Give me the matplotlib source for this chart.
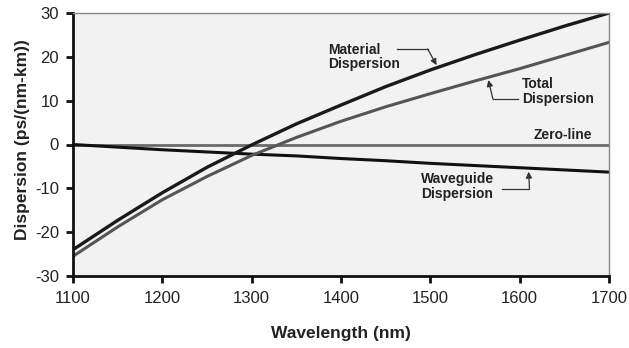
import numpy as np
import matplotlib
matplotlib.use('Agg')
import matplotlib.pyplot as plt

plt.rcParams['font.family'] = ['Liberation Sans', 'DejaVu Sans']
plt.rcParams['axes.unicode_minus'] = False

# data
wavelength = [1100, 1150, 1200, 1250, 1300, 1350, 1400, 1450, 1500, 1550, 1600, 1650, 1700]
material = [-24.0, -17.3, -11.0, -5.2, -0.1, 4.7, 9.0, 13.2, 17.0, 20.5, 23.8, 27.0, 30.0]
waveguide = [0.0, -0.6, -1.2, -1.7, -2.2, -2.6, -3.2, -3.7, -4.3, -4.8, -5.3, -5.8, -6.3]
total = [-25.5, -18.8, -12.6, -7.3, -2.5, 1.6, 5.3, 8.6, 11.6, 14.5, 17.3, 20.3, 23.3]
zero_line = [0.0] * len(wavelength)

xticks = [1100, 1200, 1300, 1400, 1500, 1600, 1700]
yticks = [-30, -20, -10, 0, 10, 20, 30]

fig = plt.figure(figsize=(6.29, 3.48), dpi=100)
ax = fig.add_axes([73/629, 72/348, 536/629, 263/348])
ax.set_facecolor('#f2f2f2')

ax.plot(wavelength, zero_line, color='#6a6a6a', lw=2.0)
ax.plot(wavelength, waveguide, color='#111111', lw=2.2)
ax.plot(wavelength, total, color='#555555', lw=2.2)
ax.plot(wavelength, material, color='#1a1a1a', lw=2.4)

ax.set_xlim(1100, 1700)
ax.set_ylim(-30, 30)
ax.set_xticks(xticks)
ax.set_yticks(yticks)
ax.tick_params(axis='both', direction='out', length=5, width=2, color='#111111',
               labelsize=12, labelcolor='#222222', pad=5)
ax.tick_params(axis='x', pad=6)

for s in ['left', 'bottom']:
    ax.spines[s].set_linewidth(2)
    ax.spines[s].set_color('#111111')
for s in ['top', 'right']:
    ax.spines[s].set_linewidth(1)
    ax.spines[s].set_color('#888888')

ax.set_xlabel('Wavelength (nm)', fontsize=12.5, fontweight='bold', color='#222222')
ax.set_ylabel('Dispersion (ps/(nm-km))', fontsize=12.5, fontweight='bold', color='#222222')
ax.xaxis.set_label_coords(0.5, -0.19)
ax.yaxis.set_label_coords(-0.08, 0.52)

# annotations
arrow = dict(arrowstyle='-|>', color='#333333', lw=0.9, shrinkA=0, shrinkB=0,
             mutation_scale=9)
tkw = dict(fontsize=10, fontweight='bold', color='#222222', linespacing=1.05)

ax.text(1386, 20.0, 'Material\nDispersion', ha='left', va='center', **tkw)
ax.plot([1463, 1497], [21.8, 21.8], color='#333333', lw=0.9)
ax.annotate('', xy=(1507, 18.1), xytext=(1497, 21.8), arrowprops=arrow)

ax.text(1603, 12.1, 'Total\nDispersion', ha='left', va='center', **tkw)
ax.plot([1598, 1570], [10.4, 10.4], color='#333333', lw=0.9)
ax.annotate('', xy=(1565, 14.7), xytext=(1570, 10.4), arrowprops=arrow)

ax.text(1681, 0.6, 'Zero-line', ha='right', va='bottom', **tkw)

ax.text(1490, -9.6, 'Waveguide\nDispersion', ha='left', va='center', **tkw)
ax.plot([1580, 1611], [-10.15, -10.15], color='#333333', lw=0.9)
ax.annotate('', xy=(1610, -6.2), xytext=(1611, -10.15), arrowprops=arrow)

fig.savefig('out.png', dpi=100)
